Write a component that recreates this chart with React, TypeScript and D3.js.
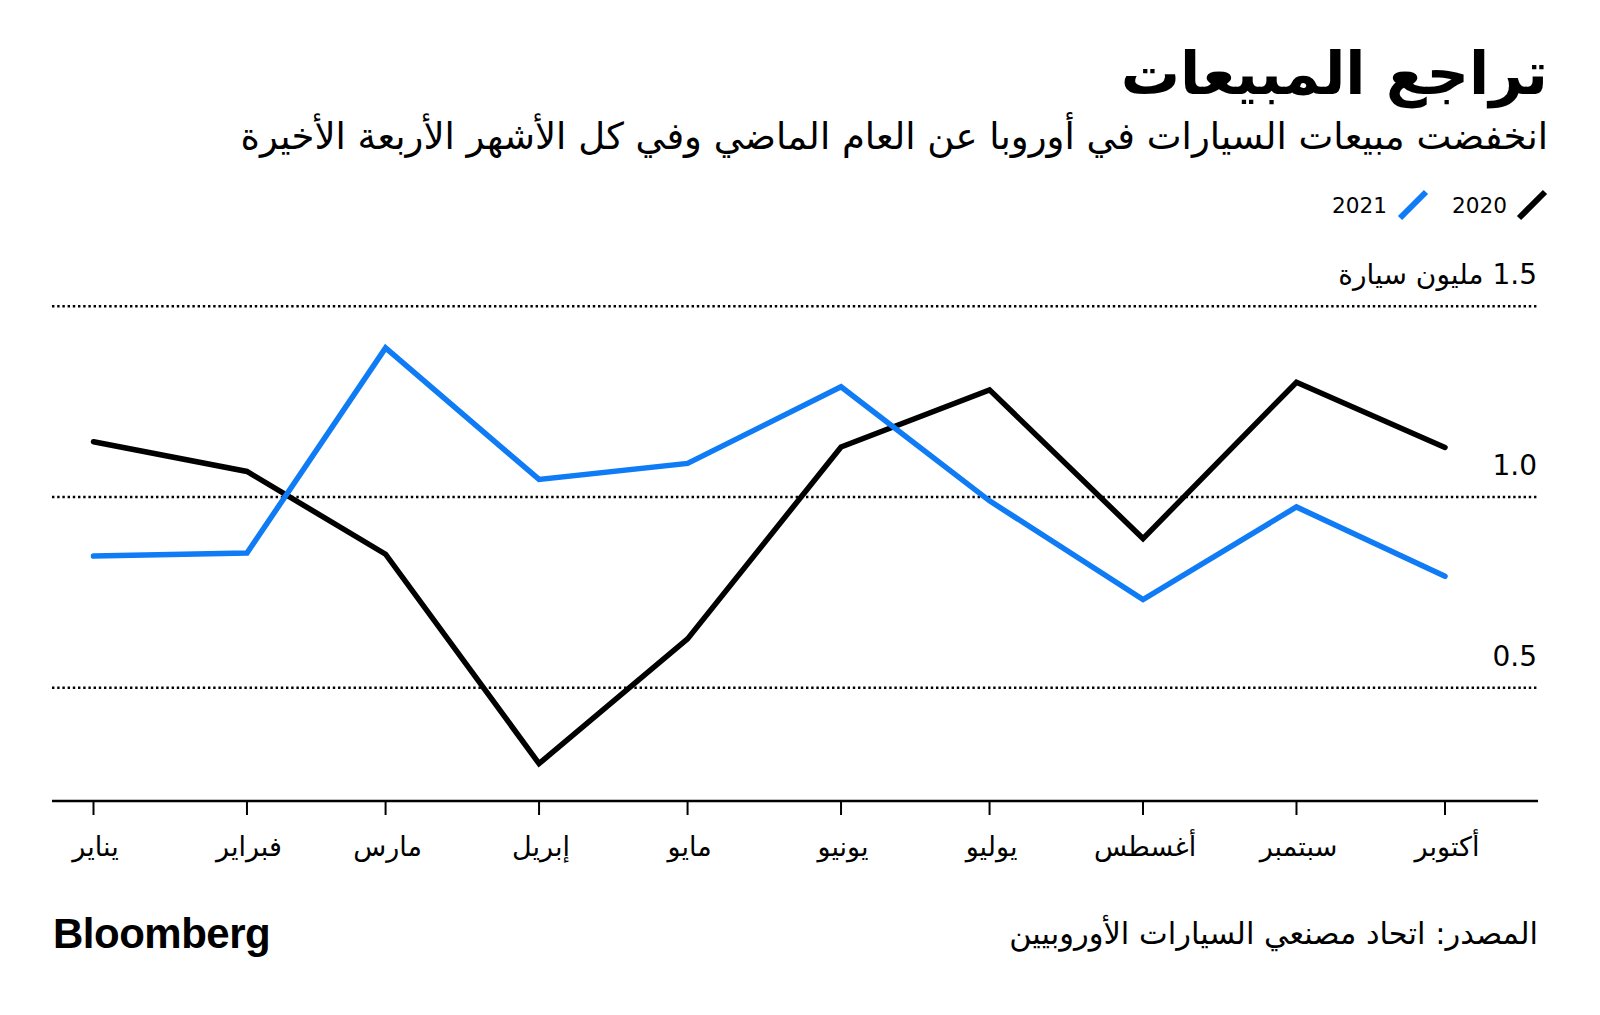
import React from "react";
import * as d3 from "d3";

// ---- data ----
const monthLabels = ["يناير", "فبراير", "مارس", "إبريل", "مايو", "يونيو", "يوليو", "أغسطس", "سبتمبر", "أكتوبر"];
const monthDates = ["2021-01-01", "2021-02-01", "2021-03-01", "2021-04-01", "2021-05-01", "2021-06-01", "2021-07-01", "2021-08-01", "2021-09-01", "2021-10-01"];
const sales2020 = [1.145, 1.067, 0.85, 0.301, 0.628, 1.131, 1.281, 0.891, 1.301, 1.13];
const sales2021 = [0.845, 0.853, 1.391, 1.046, 1.088, 1.289, 0.99, 0.731, 0.974, 0.792];
const yTicks = [0.5, 1.0, 1.5];
const yTickLabels = ["0.5", "1.0", "1.5 مليون سيارة"];
const seriesNames = ["2020", "2021"];

const title = "تراجع المبيعات";
const subtitle = "انخفضت مبيعات السيارات في أوروبا عن العام الماضي وفي كل الأشهر الأربعة الأخيرة";
const source = "المصدر: اتحاد مصنعي السيارات الأوروبيين";

const W = 1600;
const H = 1015;
const BLUE = "#0f7cf5";
const AR = "'DejaVu Sans', sans-serif";
const LAT = "'Liberation Sans', Arial, sans-serif";

export default function App() {
  const dates = monthDates.map((d) => new Date(d + "T00:00:00"));
  const x = d3.scaleTime().domain([dates[0], dates[dates.length - 1]]).range([93.5, 1445]);
  const y = d3.scaleLinear().domain([0.5, 1.0]).range([687.7, 497]);
  const axisY = 801;
  const gridLeft = 52;
  const gridRight = 1538;

  const line = d3
    .line<number>()
    .x((_, i) => x(dates[i]))
    .y((v) => y(v));

  const series = [
    { name: seriesNames[0], values: sales2020, color: "#000" },
    { name: seriesNames[1], values: sales2021, color: BLUE },
  ];

  return (
    <svg width={W} height={H} style={{ position: "absolute", left: 0, top: 0, background: "#fff" }}>
      {/* title */}
      <text x={1548} y={94} textAnchor="end" fontFamily={AR} fontWeight="bold" fontSize={59} fill="#000">
        {title}
      </text>
      <text x={1548} y={149} textAnchor="end" fontFamily={AR} fontSize={37} fill="#000">
        {subtitle}
      </text>

      {/* legend */}
      <line x1={1519} y1={218} x2={1545} y2={192} stroke="#000" strokeWidth={6} strokeLinecap="butt" />
      <text x={1507} y={213} textAnchor="end" fontFamily={AR} fontSize={21.6} fill="#000">
        {seriesNames[0]}
      </text>
      <line x1={1400} y1={218} x2={1426} y2={192} stroke={BLUE} strokeWidth={6} strokeLinecap="butt" />
      <text x={1387} y={213} textAnchor="end" fontFamily={AR} fontSize={21.6} fill="#000">
        {seriesNames[1]}
      </text>

      {/* gridlines */}
      {yTicks.map((t, i) => (
        <g key={t}>
          <line
            x1={gridLeft}
            x2={gridRight}
            y1={y(t)}
            y2={y(t)}
            stroke="#000"
            strokeWidth={2.4}
            strokeDasharray="2.4,2.8"
          />
          <text
            x={1537}
            y={y(t) - 22}
            textAnchor="start"
            direction="rtl"
            style={{ direction: "rtl" }}
            fontFamily={AR}
            fontSize={28}
            fill="#000"
          >
            {yTickLabels[i]}
          </text>
        </g>
      ))}

      {/* x axis */}
      <line x1={gridLeft} x2={gridRight} y1={axisY} y2={axisY} stroke="#000" strokeWidth={2.5} />
      {dates.map((d, i) => (
        <g key={i}>
          <line x1={x(d)} x2={x(d)} y1={axisY} y2={axisY + 14} stroke="#000" strokeWidth={2} />
          <text x={x(d) + 2} y={856} textAnchor="middle" fontFamily={AR} fontSize={27} fill="#000">
            {monthLabels[i]}
          </text>
        </g>
      ))}

      {/* lines */}
      {series.map((s) => (
        <path
          key={s.name}
          d={line(s.values) || ""}
          fill="none"
          stroke={s.color}
          strokeWidth={5.5}
          strokeLinejoin="miter"
          strokeLinecap="round"
        />
      ))}

      {/* footer */}
      <text x={53} y={948} fontFamily={LAT} fontWeight="bold" fontSize={42} letterSpacing={-0.5} fill="#000">
        Bloomberg
      </text>
      <text x={1538} y={944} textAnchor="end" fontFamily={AR} fontSize={30.5} fill="#000">
        {source}
      </text>
    </svg>
  );
}
